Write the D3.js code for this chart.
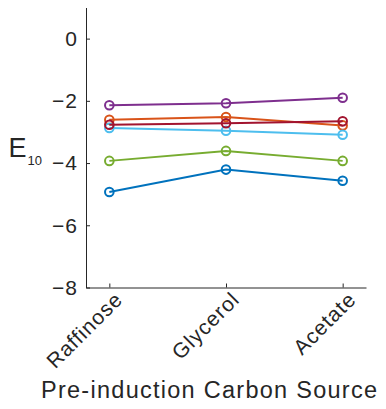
<!DOCTYPE html>
<html>
<head>
<meta charset="utf-8">
<script src="https://cdn.jsdelivr.net/npm/d3@7"></script>
<style>
  body { margin: 0; background: #fff; }
  text { font-family: "Liberation Sans", Arial, Helvetica, sans-serif; fill: #262626; }
</style>
</head>
<body>
<svg id="chart"></svg>
<script>
// categories and series
const categories = ['Raffinose', 'Glycerol', 'Acetate'];
const yTicks = [0, -2, -4, -6, -8];

const blueVals     = [-4.93, -4.21, -4.57];
const orangeVals   = [-2.61, -2.52, -2.79];
const purpleVals   = [-2.14, -2.08, -1.90];
const greenVals    = [-3.93, -3.61, -3.93];
const lightVals    = [-2.87, -2.96, -3.09];
const darkRedVals  = [-2.77, -2.72, -2.66];

const series = [
  { color: '#0072BD', values: blueVals },
  { color: '#D95319', values: orangeVals },
  { color: '#7E2F8E', values: purpleVals },
  { color: '#77AC30', values: greenVals },
  { color: '#4DBEEE', values: lightVals },
  { color: '#A2142F', values: darkRedVals }
];

const width = 386, height = 409;
const margin = { top: 7.5, left: 86, right: 20, bottom: 121.5 };
const w = width - margin.left - margin.right;
const h = height - margin.top - margin.bottom;

const svg = d3.select('#chart')
    .attr('width', width)
    .attr('height', height);

const chart = svg.append('g')
    .attr('transform', `translate(${margin.left},${margin.top})`);

const xScale = d3.scaleLinear()
    .domain([0.8, 3.2])
    .range([0, w]);

const yScale = d3.scaleLinear()
    .domain([-8, 1])
    .range([h, 0]);

// axes, MATLAB style: ticks pointing inward
const xAxis = d3.axisBottom(xScale)
    .tickValues([1, 2, 3])
    .tickSize(-4)
    .tickSizeOuter(0)
    .tickFormat(d => categories[d - 1]);

const yAxis = d3.axisLeft(yScale)
    .tickValues(yTicks)
    .tickSize(-4)
    .tickSizeOuter(0)
    .tickPadding(8);

const xAxisG = chart.append('g')
    .attr('transform', `translate(0,${h})`)
    .call(xAxis);

xAxisG.selectAll('text')
    .attr('font-size', 21)
    .attr('letter-spacing', 1)
    .attr('text-anchor', 'end')
    .attr('x', 0)
    .attr('y', 0)
    .attr('dy', '0.35em')
    .attr('transform', 'translate(9,8) rotate(-45)');

const yAxisG = chart.append('g')
    .call(yAxis);

yAxisG.selectAll('text')
    .attr('font-size', 21)
    .attr('letter-spacing', 1);

chart.selectAll('.domain, .tick line')
    .attr('stroke', '#262626');

// y label: E with subscript 10
const yLabel = svg.append('text')
    .attr('x', 8.5)
    .attr('y', 156.5);
yLabel.append('tspan')
    .attr('font-size', 27)
    .text('E');
yLabel.append('tspan')
    .attr('font-size', 13)
    .attr('dx', 1)
    .attr('dy', 8)
    .text('10');

// x label
svg.append('text')
    .attr('x', 41)
    .attr('y', 398)
    .attr('font-size', 23.5)
    .attr('textLength', 336)
    .attr('lengthAdjust', 'spacing')
    .text('Pre-induction Carbon Source');

const line = d3.line()
    .x((d, i) => xScale(i + 1))
    .y(d => yScale(d));

const groups = chart.selectAll('.series')
    .data(series)
  .join('g')
    .attr('class', 'series');

groups.append('path')
    .attr('d', d => line(d.values))
    .attr('fill', 'none')
    .attr('stroke', d => d.color)
    .attr('stroke-width', 2);

groups.selectAll('circle')
    .data(d => d.values.map(v => ({ v, color: d.color })))
  .join('circle')
    .attr('cx', (d, i) => xScale(i + 1))
    .attr('cy', d => yScale(d.v))
    .attr('r', 4.3)
    .attr('fill', 'none')
    .attr('stroke', d => d.color)
    .attr('stroke-width', 2);
</script>
</body>
</html>
